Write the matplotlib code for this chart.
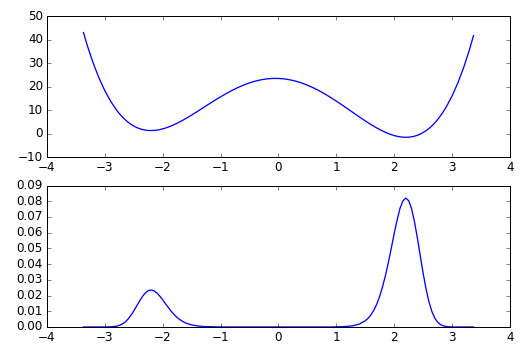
import matplotlib
matplotlib.use("Agg")
import matplotlib.pyplot as plt

x = [-3.37, -3.3, -3.2, -3.1, -3.0, -2.9, -2.8, -2.75, -2.7, -2.65, -2.6, -2.55,
     -2.5, -2.45, -2.4, -2.35, -2.3, -2.25, -2.2, -2.15, -2.1, -2.05, -2.0, -1.95,
     -1.9, -1.85, -1.8, -1.75, -1.7, -1.65, -1.6, -1.5, -1.4, -1.3, -1.2, -1.1,
     -1.0, -0.9, -0.8, -0.7, -0.6, -0.5, -0.4, -0.3, -0.2, -0.1, 0.0,
     0.1, 0.2, 0.3, 0.4, 0.5, 0.6, 0.7, 0.8, 0.9, 1.0, 1.1, 1.2,
     1.3, 1.4, 1.5, 1.55, 1.6, 1.65, 1.7, 1.75, 1.8, 1.85, 1.9, 1.95,
     2.0, 2.05, 2.1, 2.15, 2.2, 2.25, 2.3, 2.35, 2.4, 2.45, 2.5, 2.55,
     2.6, 2.65, 2.7, 2.75, 2.8, 2.85, 2.9, 3.0, 3.1, 3.2, 3.3, 3.37]

# верхний график - потенциал
potential = [42.99, 37.23, 29.92, 23.64, 18.30, 13.83, 10.17, 8.62, 7.24, 6.04, 4.99, 4.09,
             3.34, 2.72, 2.24, 1.87, 1.61, 1.47, 1.43, 1.48, 1.62, 1.84, 2.14, 2.51,
             2.94, 3.43, 3.96, 4.55, 5.18, 5.84, 6.54, 8.01, 9.54, 11.12, 12.70, 14.25,
             15.74, 17.16, 18.48, 19.68, 20.74, 21.65, 22.39, 22.96, 23.34, 23.53, 23.52,
             23.33, 22.94, 22.37, 21.61, 20.67, 19.58, 18.34, 16.97, 15.48, 13.90, 12.26, 10.56,
             8.86, 7.16, 5.51, 4.72, 3.94, 3.21, 2.50, 1.84, 1.22, 0.65, 0.14, -0.31,
             -0.70, -1.01, -1.24, -1.38, -1.43, -1.38, -1.23, -0.96, -0.58, -0.07, 0.58, 1.37,
             2.31, 3.40, 4.66, 6.09, 7.71, 9.51, 11.51, 16.14, 21.68, 28.18, 35.73, 41.69]

# нижний график - распределение
prob = [0.0, 0.0, 0.0, 0.0, 0.0, 0.0001, 0.0005, 0.0010, 0.0019, 0.0031, 0.0050, 0.0074,
        0.0102, 0.0134, 0.0165, 0.0194, 0.0217, 0.0231, 0.0235, 0.0230, 0.0216, 0.0196, 0.0173, 0.0147,
        0.0122, 0.0098, 0.0078, 0.0060, 0.0046, 0.0034, 0.0025, 0.0013, 0.0007, 0.0003, 0.0002, 0.0001,
        0.0, 0.0, 0.0, 0.0, 0.0, 0.0, 0.0, 0.0, 0.0, 0.0, 0.0,
        0.0, 0.0, 0.0, 0.0, 0.0, 0.0, 0.0, 0.0, 0.0, 0.0001, 0.0002, 0.0004,
        0.0009, 0.0019, 0.0040, 0.0056, 0.0079, 0.0108, 0.0147, 0.0197, 0.0258, 0.0330, 0.0413, 0.0503,
        0.0596, 0.0681, 0.0755, 0.0802, 0.0820, 0.0803, 0.0752, 0.0669, 0.0566, 0.0452, 0.0341, 0.0241,
        0.0160, 0.0099, 0.0057, 0.0031, 0.0015, 0.0007, 0.0003, 0.0, 0.0, 0.0, 0.0, 0.0]

plt.style.use('classic')
fig = plt.figure(figsize=[525 / 72, 356 / 72], dpi=72, facecolor='white')

ax1 = fig.add_subplot(2, 1, 1)
ax1.plot(x, potential, 'b-', lw=1.3)
ax1.set_xlim(-4, 4)
ax1.set_ylim(-10, 50)

ax2 = fig.add_subplot(2, 1, 2)
ax2.plot(x, prob, 'b-', lw=1.3)
ax2.set_xlim(-4, 4)
ax2.set_ylim(0, 0.09)

fig.subplots_adjust(left=0.0895, right=0.9714, top=0.955, bottom=0.0815, hspace=0.198)
fig.savefig("out.png", dpi=72, facecolor='white')
